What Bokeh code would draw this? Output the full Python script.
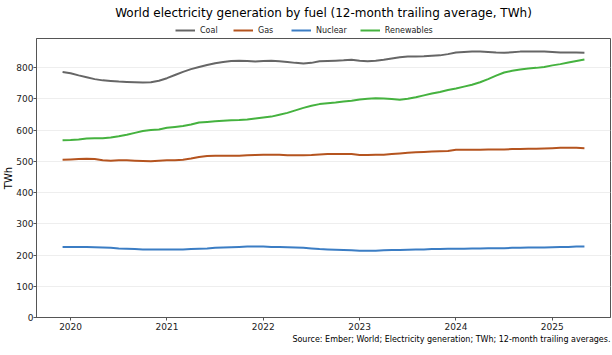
from bokeh.plotting import figure
from bokeh.layouts import column
from bokeh.models import Range1d, FixedTicker, Legend, LegendItem, Title
from bokeh.embed import file_html
from bokeh.resources import INLINE

# Monthly values, Dec 2019 .. May 2025 (12-month trailing average, TWh)
start_year = 2019 + 11 / 12
coal = [786, 782, 775, 769, 763, 759, 757, 755, 754, 753, 752, 753,
        758, 766, 776, 786, 795, 802, 808, 814, 818, 821, 822, 821,
        819, 821, 822, 820, 818, 815, 813, 815, 820, 821, 822, 823,
        825, 822, 820, 822, 825, 829, 833, 835, 835, 836, 838, 839,
        843, 848, 850, 851, 851, 850, 848, 847, 849, 851, 851, 851,
        851, 850, 848, 848, 848, 847]
gas = [505, 506, 507, 508, 507, 503, 502, 503, 503, 502, 501, 500,
       502, 503, 503, 505, 509, 514, 517, 518, 518, 518, 518, 519,
       520, 521, 521, 521, 519, 519, 519, 520, 522, 523, 523, 523,
       523, 520, 520, 521, 521, 523, 525, 527, 529, 530, 531, 532,
       533, 537, 537, 537, 537, 538, 538, 538, 539, 539, 540, 540,
       541, 542, 543, 543, 543, 542]
nuclear = [226, 226, 226, 226, 225, 224, 223, 221, 220, 219, 218, 218,
           218, 218, 218, 218, 219, 220, 221, 223, 224, 225, 226, 227,
           227, 227, 226, 226, 225, 224, 223, 221, 219, 218, 217, 216,
           215, 214, 214, 214, 215, 216, 216, 217, 218, 218, 219, 219,
           220, 220, 220, 221, 221, 222, 222, 222, 223, 223, 224, 224,
           224, 225, 226, 226, 227, 227]
renewables = [567, 568, 570, 573, 574, 574, 576, 580, 585, 591, 597, 600,
              602, 607, 610, 613, 618, 624, 626, 628, 630, 631, 632, 634,
              637, 640, 643, 649, 655, 663, 671, 678, 683, 686, 688, 691,
              694, 698, 700, 702, 701, 699, 697, 700, 705, 711, 717, 722,
              728, 733, 739, 745, 753, 763, 774, 784, 790, 794, 797, 799,
              802, 807, 811, 816, 821, 826]
series_names = ["Coal", "Gas", "Nuclear", "Renewables"]
series_colors = ["#666666", "#b5541f", "#3b7dc4", "#45b23f"]
year_ticks = [2020, 2021, 2022, 2023, 2024, 2025]

x = [start_year + i / 12 for i in range(len(coal))]
all_series = [coal, gas, nuclear, renewables]
FONT = "DejaVu Sans"

# ---- header: title + legend (its lines lie outside the header's ranges) ----
header = figure(width=612, height=37, output_backend="svg", toolbar_location=None,
                x_range=Range1d(0, 1), y_range=Range1d(0, 1),
                x_axis_location=None, y_axis_location=None,
                min_border_left=0, min_border_right=0, min_border_top=5, min_border_bottom=0)
header.title = Title(text="World electricity generation by fuel (12-month trailing average, TWh)",
                     align="center", text_font=FONT, text_font_size="12px",
                     text_font_style="normal", text_color="#000000", standoff=7)
header.grid.grid_line_color = None
header.outline_line_color = None

items = []
for name, vals, col in zip(series_names, all_series, series_colors):
    r = header.line(x, vals, line_color=col, line_width=2)
    items.append(LegendItem(label=name, renderers=[r]))
legend = Legend(items=items, orientation="horizontal", location="center_left",
                label_text_font=FONT, label_text_font_size="8px", label_text_color="#222222",
                glyph_width=20, glyph_height=10, label_height=12, label_standoff=5, spacing=13,
                padding=1, margin=139, border_line_color=None, background_fill_alpha=0)
header.add_layout(legend)

# ---- main chart ----
p = figure(width=612, height=318, output_backend="svg", toolbar_location=None,
           x_range=Range1d(2019.646, 2025.604), y_range=Range1d(0, 893),
           min_border_left=35, min_border_right=2, min_border_top=1, min_border_bottom=38)

for name, vals, col in zip(series_names, all_series, series_colors):
    p.line(x, vals, line_color=col, line_width=2)

src = Title(text="Source: Ember; World; Electricity generation; TWh; 12-month trailing averages.",
            align="right", text_font=FONT, text_font_size="8px", text_font_style="normal",
            text_color="#000000", standoff=0)
p.add_layout(src, "below")

ylab = Title(text="TWh", align="center", text_font=FONT, text_font_size="10px",
             text_font_style="normal", text_color="#000000", standoff=0)
p.add_layout(ylab, "left")

p.xaxis.ticker = FixedTicker(ticks=year_ticks)
p.yaxis.ticker = FixedTicker(ticks=list(range(0, 900, 100)))
for ax in (p.xaxis, p.yaxis):
    ax.major_label_text_font = FONT
    ax.major_label_text_font_size = "9px"
    ax.major_label_text_color = "#222222"
    ax.axis_line_color = "#555555"
    ax.major_tick_line_color = "#555555"
    ax.major_tick_out = 3
    ax.major_tick_in = 0
    ax.minor_tick_line_color = None
p.xaxis.major_label_standoff = 2
p.yaxis.major_label_standoff = 0

p.xgrid.grid_line_color = None
p.ygrid.grid_line_color = "#eeeeee"
p.outline_line_color = "#555555"
p.outline_line_alpha = 1
p.background_fill_color = "white"
p.border_fill_color = "white"

layout = column(header, p, spacing=0)
open("out.html", "w").write(file_html(layout, INLINE))
